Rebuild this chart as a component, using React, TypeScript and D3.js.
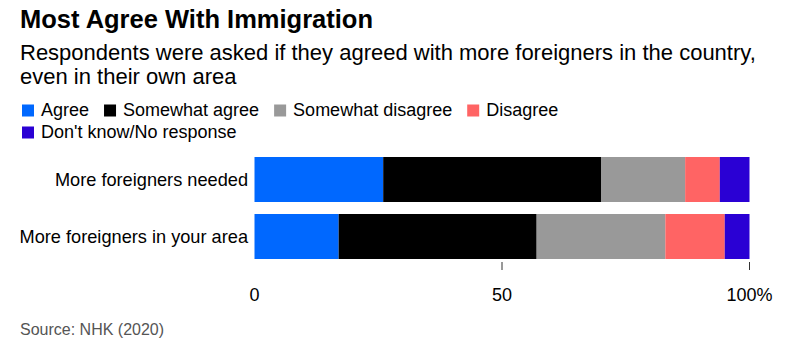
import React from "react";
import * as d3 from "d3";

const categories = ["More foreigners needed", "More foreigners in your area"];
const seriesNames = ["Agree", "Somewhat agree", "Somewhat disagree", "Disagree", "Don't know/No response"];
const seriesColors = ["#0068ff", "#000000", "#999999", "#ff6464", "#2a00d4"];
const agree = [26, 17];
const somewhatAgree = [44, 40];
const somewhatDisagree = [17, 26];
const disagree = [7, 12];
const dontKnow = [6, 5];
const xTicks = [0, 50, 100];

const width = 812;
const height = 358;
const font = "'Liberation Sans', Arial, Helvetica, sans-serif";

const measure = (() => {
  const ctx = document.createElement("canvas").getContext("2d");
  return (txt: string, size: number) => {
    if (!ctx) return txt.length * size * 0.5;
    ctx.font = `${size}px ${font}`;
    return ctx.measureText(txt).width;
  };
})();

export default function App() {
  const rows = categories.map((c, i) => ({
    category: c,
    Agree: agree[i],
    "Somewhat agree": somewhatAgree[i],
    "Somewhat disagree": somewhatDisagree[i],
    Disagree: disagree[i],
    "Don't know/No response": dontKnow[i],
  }));
  const stacked = d3.stack<any>().keys(seriesNames)(rows);

  const x = d3.scaleLinear().domain([0, 100]).range([254.5, 749.5]);
  const y = d3.scaleBand().domain(categories).range([157, 259]).paddingInner(12 / 57).paddingOuter(0);

  // legend: first four on one line, the last one wraps
  const legendSize = 18;
  let lx = 22;
  const legendItems = seriesNames.map((name, i) => {
    if (i === 4) lx = 22;
    const item = { name, color: seriesColors[i], x: lx, row: i === 4 ? 1 : 0 };
    lx += 19 + measure(name, legendSize) + 15;
    return item;
  });

  return (
    <svg width={width} height={height} style={{ position: "absolute", left: 0, top: 0, background: "#fff" }} fontFamily={font}>
      <text x={20} y={27.5} fontSize={25.5} fontWeight="bold" fill="#000">Most Agree With Immigration</text>
      <text x={20} y={59.5} fontSize={22} fill="#000">Respondents were asked if they agreed with more foreigners in the country,</text>
      <text x={20} y={83.5} fontSize={22} fill="#000">even in their own area</text>

      {legendItems.map((d) => (
        <g key={d.name} transform={`translate(${d.x},${104 + d.row * 22})`}>
          <rect x={0} y={0.5} width={12} height={12} fill={d.color} />
          <text x={19} y={11.7} fontSize={legendSize} fill="#000">{d.name}</text>
        </g>
      ))}

      {categories.map((c) => (
        <text key={c} x={248} y={(y(c) ?? 0) + y.bandwidth() / 2} dy="0.35em" textAnchor="end" fontSize={18.2} fill="#000">{c}</text>
      ))}

      {stacked.map((s, si) => (
        <g key={s.key} fill={seriesColors[si]}>
          {s.map((d, i) => (
            <rect
              key={categories[i]}
              x={x(d[0])}
              y={y(categories[i])}
              width={x(d[1]) - x(d[0])}
              height={y.bandwidth()}
            />
          ))}
        </g>
      ))}

      {xTicks.filter((t) => t > 0).map((t) => (
        <line key={t} x1={x(t)} x2={x(t)} y1={262} y2={270} stroke="#333" strokeWidth={1} />
      ))}
      {xTicks.map((t) => (
        <text key={t} x={x(t)} y={301} textAnchor="middle" fontSize={18} fill="#000">
          {t === 100 ? `${t}%` : t}
        </text>
      ))}

      <text x={20} y={335} fontSize={16} fill="#555">Source: NHK (2020)</text>
    </svg>
  );
}
